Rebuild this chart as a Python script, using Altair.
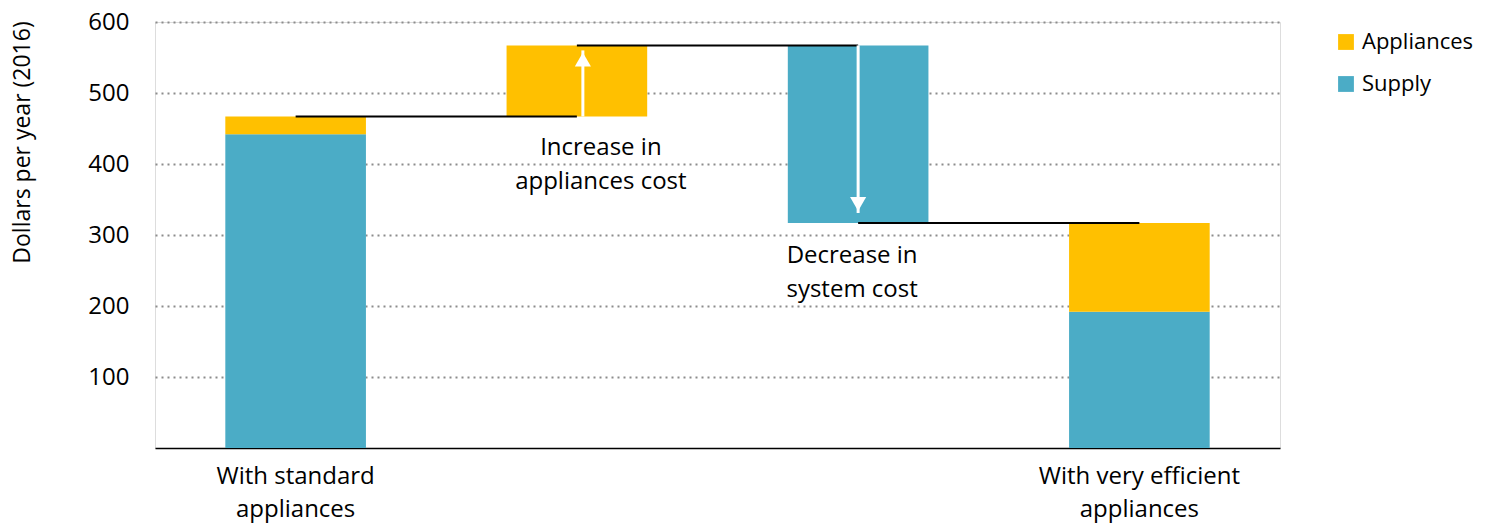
import altair as alt
import pandas as pd

# Categories along the x axis (first and last are the stacked totals)
categories = [
    "With standard appliances",
    "Increase in appliances cost",
    "Decrease in system cost",
    "With very efficient appliances",
]

# Bar segments: category, series, start and end (dollars per year)
seg_cat = [categories[0], categories[0], categories[1], categories[2], categories[3], categories[3]]
seg_series = ["Supply", "Appliances", "Appliances", "Supply", "Supply", "Appliances"]
seg_start = [0, 442, 467, 317, 0, 192]
seg_end = [442, 467, 567, 567, 192, 317]

# Connector lines between neighbouring bars
conn_from = [categories[0], categories[1], categories[2]]
conn_to = [categories[1], categories[2], categories[3]]
conn_level = [467, 567, 317]

# White arrows inside the change bars
arrow_cat = [categories[1], categories[2]]
arrow_from = [467, 567]
arrow_tip = [560, 331]
arrow_shape = ["triangle-up", "triangle-down"]
arrow_head_offset = [9, -9]
arrow_dx = [6, 0]

# Annotation text under the change bars
note_cat = [categories[1], categories[2]]
note_lines = [["Increase in", "appliances cost"], ["Decrease in", "system cost"]]
note_level = [422, 270]
note_dx = [24, -6]

series_order = ["Appliances", "Supply"]
series_colors = ["#FFC000", "#4BACC6"]

FONT = "Open Sans"
FS = 24

segments = pd.DataFrame({"cat": seg_cat, "series": seg_series, "start": seg_start, "end": seg_end})
connectors = pd.DataFrame({"from": conn_from, "to": conn_to, "level": conn_level})

label_expr = (
    "datum.value == 'With standard appliances' ? ['With standard', 'appliances'] : "
    "datum.value == 'With very efficient appliances' ? ['With very efficient', 'appliances'] : ''"
)

x_scale = alt.Scale(domain=categories, paddingInner=0.5, paddingOuter=0.25)
y_scale = alt.Scale(domain=[0, 600], nice=False)

x_enc = alt.X(
    "cat:N", scale=x_scale, sort=categories, title=None,
    axis=alt.Axis(
        labelAngle=0, labelExpr=label_expr, labelFontSize=FS, labelFont=FONT,
        labelColor="#000000", labelLineHeight=33, labelPadding=16, labelLimit=400,
        ticks=False, domainColor="#000000", domainWidth=1.5, grid=False,
        labelBaseline="top",
    ),
)

y_enc = alt.Y(
    "start:Q", scale=y_scale,
    axis=alt.Axis(
        values=[100, 200, 300, 400, 500, 600], title="Dollars per year (2016)",
        titleFont=FONT, titleFontSize=23, titleFontWeight="normal", titleColor="#000000",
        titleX=-133, titleY=120, titleAngle=-90, titleAlign="center", titleBaseline="middle",
        labelFont=FONT, labelFontSize=FS, labelColor="#000000", labelPadding=26,
        ticks=False, domain=False, grid=True, gridColor="#8c8c8c",
        gridDash=[2, 4], gridWidth=2,
    ),
)

bars = alt.Chart(segments).mark_bar().encode(
    x=x_enc,
    y=y_enc,
    y2="end:Q",
    color=alt.Color(
        "series:N",
        scale=alt.Scale(domain=series_order, range=series_colors),
        legend=alt.Legend(
            title=None, orient="none", legendX=1180, legendY=9, symbolType="square",
            symbolSize=250, symbolStrokeWidth=0, labelFont=FONT, labelFontSize=22,
            labelColor="#000000", rowPadding=20, labelOffset=5, labelLimit=300,
        ),
    ),
)

lines = alt.Chart(connectors).mark_rule(color="#000000", strokeWidth=2).encode(
    x=alt.X("from:N", scale=x_scale, sort=categories),
    x2="to:N",
    y=alt.Y("level:Q", scale=y_scale),
)

layers = [bars, lines]

# Arrow shafts and heads, one layer per arrow
for i in range(len(arrow_cat)):
    row = pd.DataFrame({"cat": [arrow_cat[i]], "base": [arrow_from[i]], "tip": [arrow_tip[i]]})
    shaft = alt.Chart(row).mark_rule(
        color="#ffffff", strokeWidth=3, xOffset=arrow_dx[i],
    ).encode(
        x=alt.X("cat:N", scale=x_scale, sort=categories),
        y=alt.Y("base:Q", scale=y_scale),
        y2="tip:Q",
    )
    head = alt.Chart(row).mark_point(
        filled=True, color="#ffffff", opacity=1, size=260, shape=arrow_shape[i],
        xOffset=arrow_dx[i], yOffset=arrow_head_offset[i], strokeWidth=0,
    ).encode(
        x=alt.X("cat:N", scale=x_scale, sort=categories),
        y=alt.Y("tip:Q", scale=y_scale),
    )
    layers += [shaft, head]

# Two-line notes under the change bars
for i in range(len(note_cat)):
    row = pd.DataFrame({"cat": [note_cat[i]], "level": [note_level[i]], "text": [note_lines[i]]})
    note = alt.Chart(row).mark_text(
        font=FONT, fontSize=FS, color="#000000", lineHeight=34, align="center",
        baseline="middle", dx=note_dx[i],
    ).encode(
        x=alt.X("cat:N", scale=x_scale, sort=categories),
        y=alt.Y("level:Q", scale=y_scale),
        text="text",
    )
    layers.append(note)

chart = (
    alt.layer(*layers)
    .properties(
        width=1125, height=426,
        autosize=alt.AutoSizeParams(type="none"),
        padding={"left": 155, "top": 22, "right": 205, "bottom": 76},
    )
    .configure_view(stroke=None)
    .configure(background="#ffffff")
)

chart.save("out.html", embed_options={"renderer": "svg", "actions": False})
